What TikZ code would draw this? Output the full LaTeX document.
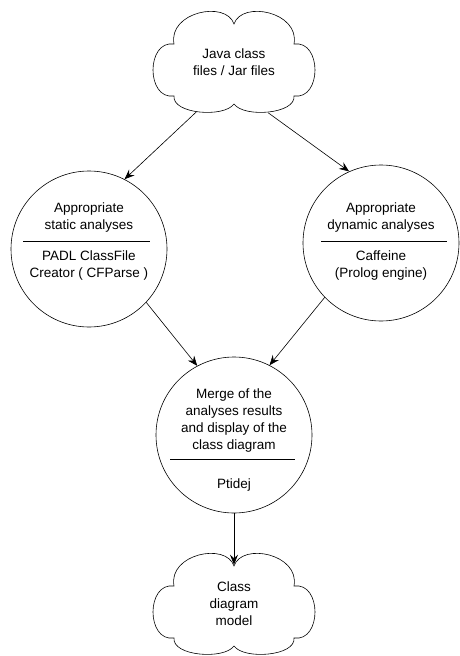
\documentclass[tikz,border=0pt]{standalone}
\usepackage{fontspec}
\setmainfont{Liberation Sans}
\usepackage{tikz}
\usetikzlibrary{arrows.meta,shapes.geometric}

% cloud outline round a named node
\newcommand{\drawcloud}[1]{%
  \draw[-,shift={(#1.center)}] (0,-38) .. controls (8,-62) and (66,-50) .. (60,-18)
    .. controls (88,-22) and (88,38) .. (60,34)
    .. controls (62,52) and (10,56) .. (0,42)
    .. controls (-10,56) and (-62,52) .. (-60,34)
    .. controls (-88,38) and (-88,-22) .. (-60,-18)
    .. controls (-66,-50) and (-8,-62) .. (0,-38) -- cycle;}

\begin{document}
\begin{tikzpicture}
[x=1pt,y=-1pt,->,>={Stealth[length=10pt,width=8pt,inset=3.5pt]},line width=0.6pt,
  cloud node/.style={ellipse,minimum width=160pt,minimum height=#1,inner sep=0pt,align=center,font=\fontsize{13.5}{17}\selectfont},
  step node/.style={circle,draw,minimum size=156pt,inner sep=0pt},
  txt node/.style={align=center,inner sep=0pt,font=\fontsize{13.5}{17}\selectfont}]

  \useasboundingbox (0,0) rectangle (460,656);

  \node [cloud node=112pt] (files) at 	(234,62) 	{Java class\\files / Jar files};
  \node [step node] (static) at 	(89,249) 	{};
  \node [step node] (dynamic) at 	(381,243) 	{};
  \node [step node] (merge) at 	(234,435) 	{};
  \node [cloud node=78pt] (model) at 	(234,604) 	{Class\\diagram\\model};
  \drawcloud{files}
  \drawcloud{model}

  % texts and dividers inside the circles
  \node [txt node] (staticA) at 	(89,218) 	{Appropriate\\static analyses};
  \node [txt node] (staticB) at 	(89,266) 	{PADL ClassFile\\Creator ( CFParse )};
  \node [txt node] (dynamicA) at 	(381,218) 	{Appropriate\\dynamic analyses};
  \node [txt node] (dynamicB) at 	(381,266) 	{Caffeine\\(Prolog engine)};
  \node [txt node] (mergeA) at 	(234,421) 	{Merge of the\\analyses results\\and display of the\\class diagram};
  \node [txt node] (mergeB) at 	(234,485) 	{Ptidej};
  \draw [-] (23,241) -- (150,241);
  \draw [-] (321,241) -- (447,241);
  \draw [-] (170,459) -- (295,459);

   \foreach \from/\to in {files.233/static.63,files.304/dynamic.114,static.-43/merge.118,dynamic.224/merge.63,merge.south/model.north}
     \draw (\from) -- (\to);

\end{tikzpicture}
\end{document}
